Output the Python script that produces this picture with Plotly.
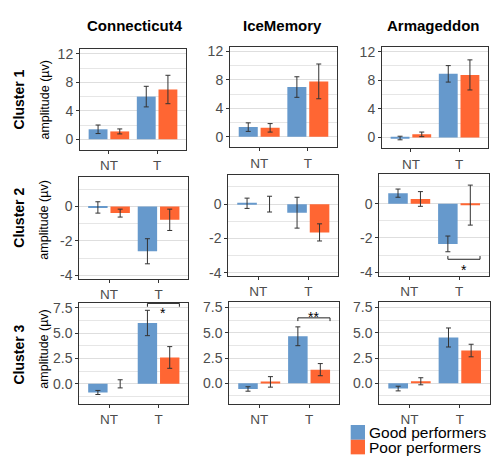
import plotly.graph_objects as go

# ---------------- data ----------------
games = ["Connecticut4", "IceMemory", "Armageddon"]
clusters = ["Cluster 1", "Cluster 2", "Cluster 3"]
conditions = ["NT", "T"]
groups = ["Good performers", "Poor performers"]

# mean amplitude [cluster][game] -> [NT, T]
good_mean = [
    [[1.4, 6.0], [1.35, 7.0], [-0.06, 8.9]],
    [[-0.05, -2.6], [0.05, -0.5], [0.62, -2.35]],
    [[-0.85, 6.0], [-0.56, 4.65], [-0.52, 4.53]],
]
good_se = [
    [[0.6, 1.45], [0.6, 1.45], [0.25, 1.15]],
    [[0.33, 0.73], [0.3, 0.9], [0.24, 0.46]],
    [[0.2, 1.25], [0.22, 0.93], [0.23, 0.94]],
]
poor_mean = [
    [[1.1, 7.0], [1.25, 7.8], [0.45, 8.75]],
    [[-0.38, -0.77], [0.0, -1.65], [0.28, -0.08]],
    [[0.0, 2.6], [0.14, 1.35], [0.2, 3.24]],
]
poor_se = [
    [[0.35, 2.0], [0.6, 2.45], [0.32, 2.1]],
    [[0.23, 0.62], [0.46, 0.5], [0.43, 1.17]],
    [[0.4, 1.07], [0.52, 0.6], [0.35, 0.62]],
]

# y-axis ticks per cluster row
row_tickvals = [[0, 4, 8, 12], [-4, -2, 0], [0, 2.5, 5, 7.5]]
row_ticktext = [["0", "4", "8", "12"], ["-4", "-2", "0"], ["0.0", "2.5", "5.0", "7.5"]]
row_minor = [[2, 6, 10], [-3, -1, 1], [-1.25, 1.25, 3.75, 6.25]]
row_range = [[-1.52, 12.7], [-4.2, 1.72], [-2.0, 8.0]]

# significance brackets: (cluster, game, line y, tick end y, label, label y)
sig_brackets = [
    (1, 2, -3.25, -3.06, "*", -3.63),
    (2, 0, 7.93, 7.6, "*", 7.34),
    (2, 1, 6.47, 6.15, "**", 6.95),
]

colors = ["#6699CC", "#FF6633"]

# ---------------- layout geometry (pixels) ----------------
W, H = 492, 462
panel_px = [
    [(80, 186, 46.7, 149.3), (230, 337, 44.3, 146.7), (382, 488, 44.3, 147.7)],
    [(79.3, 188.3, 176.7, 280), (228.3, 338.3, 174.3, 277.3), (379.3, 489, 174, 276.7)],
    [(79.3, 188.3, 304.3, 407.3), (229.3, 339, 304, 406.7), (379.3, 490, 304, 406.7)],
]

FONT = "Liberation Sans, Arial, sans-serif"
fig = go.Figure()
layout = dict(
    width=W, height=H,
    margin=dict(l=0, r=0, t=0, b=0),
    paper_bgcolor="white", plot_bgcolor="white",
    barmode="group", bargap=0.1, bargroupgap=0.13,
    showlegend=False,
    font=dict(family=FONT, color="#4D4D4D"),
)

annotations = []
shapes = []

for r in range(3):
    for c in range(3):
        i = r * 3 + c + 1
        sx = "" if i == 1 else str(i)
        x0, x1, y0, y1 = panel_px[r][c]
        means = [good_mean[r][c], poor_mean[r][c]]
        ses = [good_se[r][c], poor_se[r][c]]
        for g in range(2):
            fig.add_trace(go.Bar(
                x=conditions, y=means[g], name=groups[g],
                marker=dict(color=colors[g], line=dict(width=0)),
                error_y=dict(type="data", array=ses[g], visible=True,
                             color="#333333", thickness=1, width=2.5),
                xaxis="x" + sx, yaxis="y" + sx, offsetgroup=str(g),
                showlegend=False,
            ))
        layout["xaxis" + sx] = dict(
            domain=[x0 / W, x1 / W], anchor="y" + sx,
            type="category", categoryorder="array", categoryarray=conditions,
            range=[-0.6, 1.6], showgrid=False, zeroline=False,
            showline=True, mirror=True, linecolor="#333333", linewidth=1,
            ticks="outside", ticklen=3, tickcolor="#333333",
            tickfont=dict(size=13.5, color="#4D4D4D", family=FONT),
            fixedrange=True,
        )
        layout["yaxis" + sx] = dict(
            domain=[1 - y1 / H, 1 - y0 / H], anchor="x" + sx,
            range=row_range[r], tickmode="array",
            tickvals=row_tickvals[r], ticktext=row_ticktext[r],
            showgrid=True, gridcolor="#DEDEDE", gridwidth=1,
            minor=dict(tickmode="array", tickvals=row_minor[r], showgrid=True,
                       gridcolor="#E6E6E6", gridwidth=1, ticks=""),
            zeroline=False,
            showline=True, mirror=True, linecolor="#333333", linewidth=1,
            ticks="outside", ticklen=3, tickcolor="#333333",
            tickfont=dict(size=14, color="#4D4D4D", family=FONT),
            fixedrange=True,
        )

# significance brackets
bx0, bx1 = 1 - 0.225, 1.42
for (r, c, yl, yt, lab, ly) in sig_brackets:
    i = r * 3 + c + 1
    sx = "" if i == 1 else str(i)
    xr, yr = "x" + sx, "y" + sx
    shapes.append(dict(type="line", xref=xr, yref=yr, x0=bx0, x1=bx1, y0=yl, y1=yl,
                       line=dict(color="#222222", width=1)))
    for bx in (bx0, bx1):
        shapes.append(dict(type="line", xref=xr, yref=yr, x0=bx, x1=bx, y0=yl, y1=yt,
                           line=dict(color="#222222", width=1)))
    annotations.append(dict(x=(bx0 + bx1) / 2, y=ly, xref=xr, yref=yr, text=lab,
                            showarrow=False, yshift=-4, xanchor="center", yanchor="middle",
                            font=dict(size=14, color="black", family=FONT)))

# column titles
title_cx = [135, 282, 433]
for c in range(3):
    annotations.append(dict(x=title_cx[c] / W, y=1 - 22.5 / H, xref="paper", yref="paper",
                            xanchor="center", yanchor="middle",
                            text="<b>%s</b>" % games[c], showarrow=False,
                            font=dict(size=15, color="black", family=FONT)))

# row labels
row_cy = [98, 218, 357]
amp_cy = [99, 221, 352]
for r in range(3):
    annotations.append(dict(x=19 / W, y=1 - row_cy[r] / H, xref="paper", yref="paper",
                            xanchor="center", yanchor="middle",
                            text="<b>%s</b>" % clusters[r], textangle=-90, showarrow=False,
                            font=dict(size=14, color="black", family=FONT)))
    annotations.append(dict(x=44 / W, y=1 - amp_cy[r] / H, xref="paper", yref="paper",
                            xanchor="center", yanchor="middle",
                            text="amplitude (µv)", textangle=-90, showarrow=False,
                            font=dict(size=12.5, color="black", family=FONT)))

# legend (drawn)
leg_x0, leg_x1 = 350.7, 365
leg_rows = [(428.5, 443.5), (443.5, 458.3)]
for g in range(2):
    ya, yb = leg_rows[g]
    shapes.append(dict(type="rect", xref="paper", yref="paper",
                       x0=leg_x0 / W, x1=leg_x1 / W, y0=1 - yb / H, y1=1 - ya / H,
                       fillcolor=colors[g], line=dict(width=0)))
    annotations.append(dict(x=366.5 / W, y=1 - ((ya + yb) / 2 + 0.5) / H, xref="paper", yref="paper",
                            xanchor="left", yanchor="middle", text=groups[g], showarrow=False,
                            font=dict(size=15.5, color="black", family=FONT)))

layout["annotations"] = annotations
layout["shapes"] = shapes
fig.update_layout(**layout)
fig.write_html("out.html",
               config={"displayModeBar": False},
               post_script="document.body.style.margin='0';document.body.style.overflow='hidden';")
